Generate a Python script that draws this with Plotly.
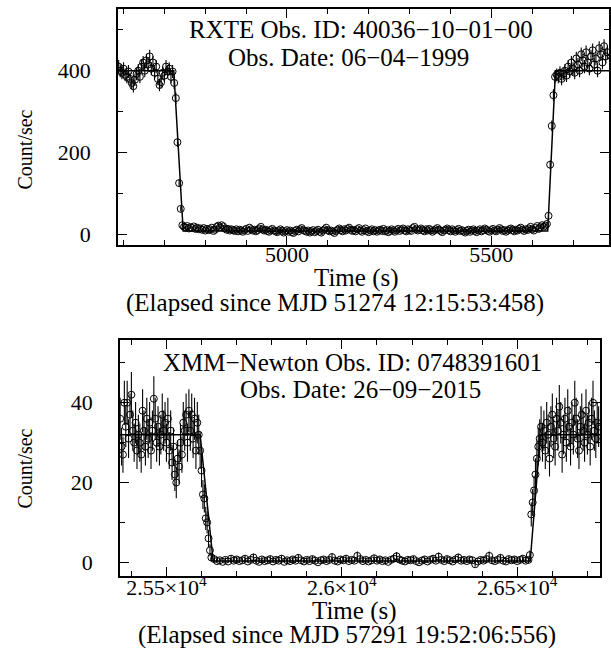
import numpy as np
import plotly.graph_objects as go

# ---------------- Top panel: RXTE (4 s bins) ----------------
RXTE_T0 = 4588.0
RXTE_DT = 4.0
rxte_high_pre = [410, 400, 395, 405, 390, 385, 398, 380, 370, 362, 378, 392, 400, 385, 410, 420, 400,
                 425, 415, 435, 405, 420, 395, 410, 380, 365, 372, 395, 388, 410, 398, 405, 385, 398]
rxte_egress = [370, 333, 225, 125, 62, 22]
rxte_low = [18, 16, 20, 14, 17, 15, 19, 13, 16, 12,
            14, 11, 15, 9, 13, 10, 12, 16, 8, 11,
            18, 21, 17, 22, 19, 14, 11, 13, 9, 12,
            10, 8, 12, 7, 11, 9, 6, 10, 13, 8,
            16, 12, 9, 11, 7, 10, 14, 18, 12, 9,
            11, 8, 6, 10, 13, 9, 7, 5, 9, 12,
            8, 4, 7, 10, 6, 9, 5, 3, 8, 11,
            7, 12, 15, 10, 8, 6, 9, 4, 7, 10,
            5, 8, 11, 6, 4, 9, 12, 16, 10, 7,
            9, 6, 3, 8, 11, 14, 10, 7, 12, 9,
            13, 16, 11, 8, 10, 7, 12, 15, 9, 6,
            10, 14, 8, 5, 9, 12, 7, 10, 6, 9,
            11, 8, 13, 7, 10, 5, 8, 12, 9, 6,
            10, 13, 8, 11, 14, 9, 7, 12, 10, 8,
            15, 18, 12, 9, 11, 14, 10, 7, 12, 9,
            13, 10, 6, 9, 12, 15, 11, 8, 5, 9,
            11, 14, 10, 7, 12, 9, 6, 10, 13, 8,
            10, 7, 4, 8, 11, 6, 9, 12, 8, 5,
            9, 12, 7, 10, 14, 11, 8, 6, 10, 13,
            9, 7, 11, 15, 12, 8, 10, 6, 9, 12,
            14, 10, 7, 11, 9, 13, 16, 11, 8, 12,
            10, 14, 18, 12, 9, 15, 20, 13, 17, 22,
            18, 21, 25]
rxte_ingress = [45, 170, 265, 340, 385]
rxte_high_post = [390, 385, 395, 380, 392, 400, 388, 410, 398, 420, 405, 395, 430, 415, 400, 440,
                  425, 410, 445, 420, 405, 435, 450, 415, 430, 400, 455, 440, 420, 460, 435, 445]
rxte_model_t = [4586, 4723, 4746, 5638, 5657, 5788]
rxte_model_r = [400, 400, 8, 8, 400, 400]

# ---------------- Bottom panel: XMM-Newton ----------------
xmm_high_pre = [36, 29, 27, 40, 34, 40, 31, 37, 42, 33, 30, 35, 28, 32, 30, 27, 38, 33, 29, 36,
                31, 35, 28, 33, 41, 36, 30, 34, 29, 32, 37, 33, 35, 30, 36, 28, 33, 25, 29, 22,
                20, 26, 24, 30, 27, 35, 33, 37, 30, 38, 33, 37, 31, 36, 28, 35, 32]
xmm_egress = [28, 23, 17, 16, 11, 10, 6, 3, 1.2]
xmm_low = [0.8, 0.3, 0.5, 0.1, 0.6, 0.2, 0.9, 0.4, 0.7, 0.3,
           0.5, 0.9, 0.2, 0.6, 1.2, 0.4, 0.1, 0.7, 0.3, 0.5,
           0.8, 0.2, 0.6, 0.4, 0.9, 0.1, 0.5, 0.3, 0.7, 0.4,
           1.1, 0.5, 0.2, 0.6, 0.3, 0.8, 0.4, 0.0, 0.5, 0.7,
           0.3, 0.6, 1.3, 0.4, 0.2, 0.7, 0.5, 0.9, 0.3, 0.6,
           0.4, 1.6, 0.8, 0.3, 0.6, 0.2, 0.5, 1.0, 0.4, 0.7,
           0.3, 0.5, 0.1, 0.6, 0.9, 1.5, 0.7, 0.4, 0.2, 0.6,
           0.5, 0.8, 0.3, 0.0, 0.4, 0.7, 0.2, 0.6, 0.9, 0.4,
           1.4, 0.6, 0.3, 0.8, 0.5, 0.2, 0.7, 1.2, 0.4, 0.6,
           0.3, 0.7, 0.5, -0.5, 0.2, 0.6, 0.4, 0.8, 1.6, 0.5,
           0.3, 0.6, 1.1, 0.4, 0.2, 0.8, 0.5, 0.7, 0.3, 0.6,
           0.9, 0.4]
xmm_ingress = [0.6, 1.8, 12, 15, 18, 22, 26, 29, 31]
xmm_high_post = [34, 30, 33, 28, 35, 32, 26, 34, 37, 31, 29, 36, 33, 39, 35, 27, 32, 36, 30, 38,
                 34, 29, 35, 32, 40, 36, 31, 28, 34, 37, 33, 30, 38, 32, 35, 29, 36, 40, 33, 31,
                 35, 34]
# segments: (start time, bin width, rates)
xmm_segments = [(25368.0, 4.0, xmm_high_pre), (25596.0, 4.0, xmm_egress), (25636.0, 8.0, xmm_low),
                (26532.0, 4.0, xmm_ingress), (26568.0, 4.0, xmm_high_post)]
xmm_model_t = [25367, 25596, 25633, 26537, 26566, 26736]
xmm_model_r = [32, 32, 0.3, 0.3, 32, 32]

# Effective exposures for Poisson error bars
RXTE_EXP = 1.6
XMM_EXP = 1.3

rxte_rate = np.array(rxte_high_pre + rxte_egress + rxte_low + rxte_ingress + rxte_high_post, float)
rxte_t = RXTE_T0 + RXTE_DT * np.arange(len(rxte_rate))
rxte_err = np.sqrt(np.abs(rxte_rate) / RXTE_EXP)

xmm_t = np.concatenate([s + d * np.arange(len(v)) for s, d, v in xmm_segments])
xmm_rate = np.concatenate([np.array(v, float) for _, _, v in xmm_segments])
xmm_err = np.sqrt(np.abs(xmm_rate) / XMM_EXP)

W, H = 611, 648
FONT = "Liberation Serif, Times New Roman, serif"

fig = go.Figure()

def add_panel(t, r, e, mt, mr, xa, ya):
    fig.add_trace(go.Scatter(x=mt, y=mr, mode="lines", line=dict(color="black", width=1.5),
                             xaxis=xa, yaxis=ya, showlegend=False, hoverinfo="skip"))
    fig.add_trace(go.Scatter(x=t, y=r, mode="markers",
                             marker=dict(symbol="circle-open", size=7, color="black",
                                         line=dict(width=1, color="black")),
                             error_y=dict(type="data", array=e, color="black", thickness=1.1, width=0),
                             xaxis=xa, yaxis=ya, showlegend=False))

add_panel(rxte_t, rxte_rate, rxte_err, rxte_model_t, rxte_model_r, "x", "y")
add_panel(xmm_t, xmm_rate, xmm_err, xmm_model_t, xmm_model_r, "x2", "y2")

TICKSIZE = 22
axis_common = dict(showline=True, linecolor="black", linewidth=1.5, mirror="ticks",
                   ticks="inside", ticklen=9, tickwidth=1, tickcolor="black",
                   showgrid=False, zeroline=False,
                   tickfont=dict(family=FONT, size=TICKSIZE, color="black"))
minor_common = dict(ticks="inside", ticklen=5, tickcolor="black", tickwidth=1, showgrid=False)

fig.update_layout(
    width=W, height=H,
    margin=dict(l=0, r=0, t=0, b=0),
    paper_bgcolor="white", plot_bgcolor="white",
    font=dict(family=FONT, color="black"),
    xaxis=dict(domain=[118 / W, 610 / W], anchor="y", range=[4586, 5788],
               tickvals=[5000, 5500], ticktext=["5000", "5500"],
               minor=dict(dtick=100, tick0=0, **minor_common),
               ticklabelstandoff=-11, **axis_common),
    yaxis=dict(domain=[1 - 246 / H, 1 - 9 / H], anchor="x", range=[-27, 551],
               tickvals=[0, 200, 400],
               minor=dict(dtick=100, tick0=0, **minor_common),
               ticklabelstandoff=21, **axis_common),
    xaxis2=dict(domain=[120 / W, 601 / W], anchor="y2", range=[25367, 26736],
                tickvals=[25500, 26000, 26500],
                ticktext=["2.55×10<sup>4</sup>", "2.6×10<sup>4</sup>", "2.65×10<sup>4</sup>"],
                minor=dict(dtick=100, tick0=0, **minor_common),
                ticklabelstandoff=-9, **axis_common),
    yaxis2=dict(domain=[1 - 578 / H, 1 - 341 / H], anchor="x2", range=[-3.5, 55.75],
                tickvals=[0, 20, 40],
                minor=dict(dtick=10, tick0=0, **minor_common),
                ticklabelstandoff=21, **axis_common),
)

def ann(text, x_px, y_px, size=25, angle=0):
    fig.add_annotation(text=text, x=x_px / W, y=1 - y_px / H, xref="paper", yref="paper",
                       showarrow=False, xanchor="center", yanchor="middle", textangle=angle,
                       font=dict(family=FONT, size=size, color="black"))

ann("RXTE Obs. ID: 40036−10−01−00", 362, 30)
ann("Obs. Date: 06−04−1999", 349, 58)
ann("Time (s)", 357, 279)
ann("(Elapsed since MJD 51274 12:15:53:458)", 336, 304)
ann("Count/sec", 25, 150, size=20, angle=-90)

ann("XMM−Newton Obs. ID: 0748391601", 353, 364)
ann("Obs. Date: 26−09−2015", 361, 391)
ann("Time (s)", 355, 613)
ann("(Elapsed since MJD 57291 19:52:06:556)", 348, 637)
ann("Count/sec", 25, 470, size=20, angle=-90)

fig.write_html("out.html", config={"displayModeBar": False},
               post_script="document.body.style.margin='0px';")
